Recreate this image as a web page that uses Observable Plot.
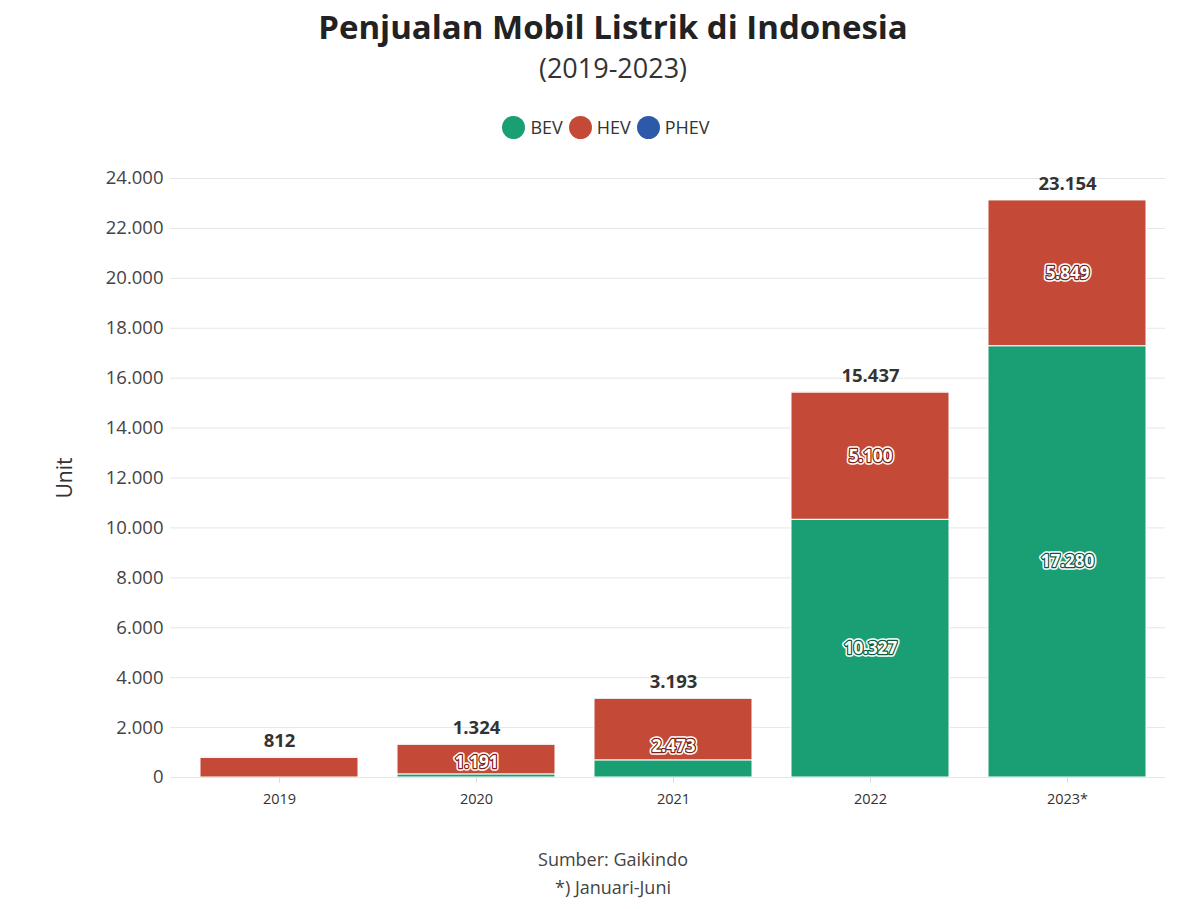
<!DOCTYPE html>
<html><head><meta charset="utf-8">
<script src="https://cdn.jsdelivr.net/npm/d3@7"></script>
<script src="https://cdn.jsdelivr.net/npm/@observablehq/plot@0.6"></script>
<style>
body{margin:0;background:#fff;font-family:"Open Sans","Noto Sans",sans-serif;}
#wrap{position:relative;width:1200px;height:909px;}
.t{position:absolute;left:13px;width:1200px;text-align:center;}
#title{top:5px;font-size:33px;font-weight:bold;color:#222;line-height:44px;}
#sub{top:49px;font-size:27px;color:#333;line-height:38px;}
#legend{left:6px;top:113px;font-size:18px;color:#333;line-height:28px;display:flex;justify-content:center;gap:6px;}
#legend span{display:inline-flex;align-items:center;gap:5px;}
#legend i{display:inline-block;width:23px;height:23px;border-radius:50%;}
#chart{position:absolute;top:150px;left:0;}
#cap{top:845px;font-size:18px;color:#444;line-height:28px;}
</style></head>
<body><div id="wrap">
<div id="title" class="t">Penjualan Mobil Listrik di Indonesia</div>
<div id="sub" class="t">(2019-2023)</div>
<div id="legend" class="t"></div>
<div id="chart"></div>
<div id="cap" class="t">Sumber: Gaikindo<br>*) Januari-Juni</div>
</div>
<script>
const years = ["2019","2020","2021","2022","2023*"];
const types = ["BEV","HEV","PHEV"];
const colors = ["#1a9e74","#c44a37","#2c5aa8"];
const bev  = [0, 125, 687, 10327, 17280];
const hev  = [787, 1191, 2473, 5100, 5849];
const phev = [25, 8, 33, 10, 25];
const totals = [812, 1324, 3193, 15437, 23154];
const yTicks = [0,2000,4000,6000,8000,10000,12000,14000,16000,18000,20000,22000,24000];

const loc = d3.formatLocale({decimal:",", thousands:".", grouping:[3], currency:["",""]});
const fmt = loc.format(",d");

const series = [bev, hev, phev];
const rows = [];
types.forEach((t, ti) => years.forEach((y, yi) => rows.push({year:y, type:t, value:series[ti][yi]})));
const totRows = years.map((y,i)=>({year:y, total:totals[i]}));

const legend = document.getElementById("legend");
types.forEach((t,i)=>{
  const s=document.createElement("span");
  s.innerHTML=`<i style="background:${colors[i]}"></i>${t}`;
  legend.appendChild(s);
});

const outline = {BEV:"#0b5a40", HEV:"#7a2217", PHEV:"#1a3a70"};
const segOpts = {x:"year", y:"value", z:"type", order:types, filter:d=>d.value>=1000,
  text:d=>fmt(d.value), fontSize:17, fontWeight:"bold"};

const chart = Plot.plot({
  width:1200, height:680,
  marginTop:28, marginBottom:53, marginLeft:180, marginRight:35,
  style:{fontFamily:"'Open Sans', 'Noto Sans', sans-serif", background:"#fff"},
  x:{domain:years, paddingInner:0.2, paddingOuter:0.1, label:null},
  y:{domain:[0,24000], label:null},
  color:{domain:types, range:colors},
  marks:[
    Plot.gridY(yTicks,{stroke:"#e6e6e6", strokeOpacity:1}),
    Plot.axisY(yTicks,{tickFormat:fmt, tickSize:10, tickPadding:7, stroke:"#e6e6e6", fontSize:18.5, color:"#444", label:null}),
    Plot.text(["Unit"],{frameAnchor:"left", textAnchor:"middle", dx:-115, rotate:-90, fontSize:21, fill:"#333"}),
    Plot.barY(rows, Plot.stackY({x:"year", y:"value", fill:"type", stroke:"#fff", strokeWidth:1, order:types})),
    Plot.ruleY([0],{stroke:"#e6e6e6"}),
    Plot.axisX({tickSize:6, tickPadding:10, stroke:"#dddddd", fontSize:14.5, color:"#333", label:null}),
    Plot.text(rows, Plot.stackY({...segOpts, fill:"#fff", stroke:"#fff", strokeWidth:5.5, strokeLinejoin:"round"})),
    Plot.text(rows, Plot.stackY({...segOpts, fill:"#fff", stroke:d=>outline[d.type], strokeWidth:2.5, paintOrder:"stroke"})),
    Plot.text(totRows,{x:"year", y:"total", text:d=>fmt(d.total), dy:-16, fontSize:18.5, fontWeight:"bold", fill:"#333"})
  ]
});
document.getElementById("chart").appendChild(chart);
</script>
</body></html>
